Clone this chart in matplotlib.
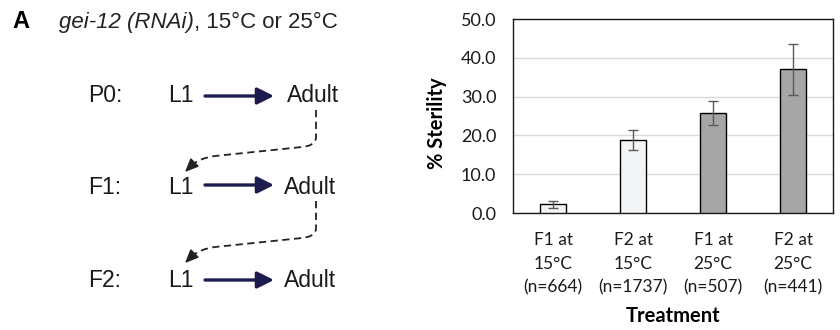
import numpy as np
import matplotlib
matplotlib.use("Agg")
import matplotlib.pyplot as plt
from matplotlib.path import Path
from matplotlib.patches import PathPatch

# bar chart data
treatments = ["F1 at\n15°C\n(n=664)", "F2 at\n15°C\n(n=1737)",
              "F1 at\n25°C\n(n=507)", "F2 at\n25°C\n(n=441)"]
sterility = [2.2, 18.8, 25.7, 37.0]
sterility_err = [1.0, 2.6, 3.1, 6.5]
bar_colors = ["#f3f4f6", "#f3f4f6", "#a6a6a6", "#a6a6a6"]
yticks = [0, 10, 20, 30, 40, 50]

# diagram labels
generations = ["P0:", "F1:", "F2:"]
stage_from = "L1"
stage_to = "Adult"

NAVY = "#1c1c4e"
ARIAL = "Liberation Sans"
CAL = "Lato"

fig = plt.figure(figsize=(8.4, 3.3), dpi=100)

# ---- left panel: schematic in pixel coordinates ----
ax_d = fig.add_axes([0, 0, 0.5, 1])
ax_d.set_xlim(0, 420)
ax_d.set_ylim(330, 0)
ax_d.axis("off")

ax_d.text(12, 28, "A", fontsize=17, fontweight="bold", family=ARIAL, va="baseline")
t1 = ax_d.text(59, 28, "gei-12 (RNAi)", fontsize=16, style="italic", family=ARIAL,
               color="#222222", va="baseline")
ax_d.annotate(", 15°C or 25°C", xy=(1, 0), xycoords=t1, fontsize=16, family=ARIAL,
              color="#222222", va="bottom", ha="left")

row_base = [102, 194, 287]
row_arrow = [96, 185, 280]
adult_x = [287, 284, 284]
for gen, yb, ya, ax_ in zip(generations, row_base, row_arrow, adult_x):
    ax_d.text(88, yb, gen, fontsize=16.5, family=ARIAL, va="baseline", color="#1a1a1a")
    ax_d.text(168, yb, stage_from, fontsize=16.5, family=ARIAL, va="baseline", color="#1a1a1a")
    ax_d.text(ax_, yb, stage_to, fontsize=16.5, family=ARIAL, va="baseline", color="#1a1a1a")
    ax_d.annotate("", xy=(274, ya), xytext=(205, ya),
                  arrowprops=dict(arrowstyle="-|>,head_length=1.0,head_width=0.5",
                                  color=NAVY, lw=2.4, shrinkA=0, shrinkB=0))

# dashed curved arrows between generations
for y0 in [110, 201]:
    verts = [(316, y0), (316, y0 + 28), (315, y0 + 36), (302, y0 + 37),
             (215, y0 + 46), (200, y0 + 48), (192, y0 + 55)]
    codes = [Path.MOVETO, Path.LINETO, Path.CURVE3, Path.CURVE3,
             Path.LINETO, Path.CURVE3, Path.CURVE3]
    ax_d.add_patch(PathPatch(Path(verts, codes), fill=False, lw=1.3,
                             ls=(0, (4, 2.5)), edgecolor="#222222"))
    ax_d.annotate("", xy=(185, y0 + 62), xytext=(193, y0 + 54),
                  arrowprops=dict(arrowstyle="-|>,head_length=0.8,head_width=0.35",
                                  color="#222222", lw=1.2, shrinkA=0, shrinkB=0))

# ---- right panel: bar chart ----
ax = fig.add_axes([513 / 840, 117 / 330, 320 / 840, 194 / 330])
x = np.arange(len(treatments))
ax.bar(x, sterility, width=0.32, color=bar_colors, edgecolor="black", linewidth=1.0, zorder=3)
ax.errorbar(x, sterility, yerr=sterility_err, fmt="none", ecolor="#595959",
            elinewidth=1.0, capsize=3.5, capthick=1.0, zorder=4)

ax.set_xlim(-0.5, 3.5)
ax.set_ylim(0, 50)
ax.set_yticks(yticks)
ax.set_yticklabels([f"{v:.1f}" for v in yticks], fontsize=13, family=CAL, color="#1a1a1a")
ax.set_xticks(x)
ax.set_xticklabels(treatments, fontsize=12.5, family=CAL, color="#1a1a1a", linespacing=1.55)
ax.tick_params(axis="both", length=0)
ax.tick_params(axis="y", pad=12)
ax.tick_params(axis="x", pad=14)
ax.yaxis.grid(True, color="#d9d9d9", lw=1.0, zorder=0)
for s in ax.spines.values():
    s.set_linewidth(1.0)
    s.set_color("#1a1a1a")

ax.set_ylabel("% Sterility", fontsize=14.5, fontweight="bold", family=CAL, va="center")
ax.yaxis.set_label_coords(-0.2375, 0.461)
ax.set_xlabel("Treatment", fontsize=14.5, fontweight="bold", family=CAL, va="center")
ax.xaxis.set_label_coords(0.5, -0.531)

fig.savefig("out.png", dpi=100)
